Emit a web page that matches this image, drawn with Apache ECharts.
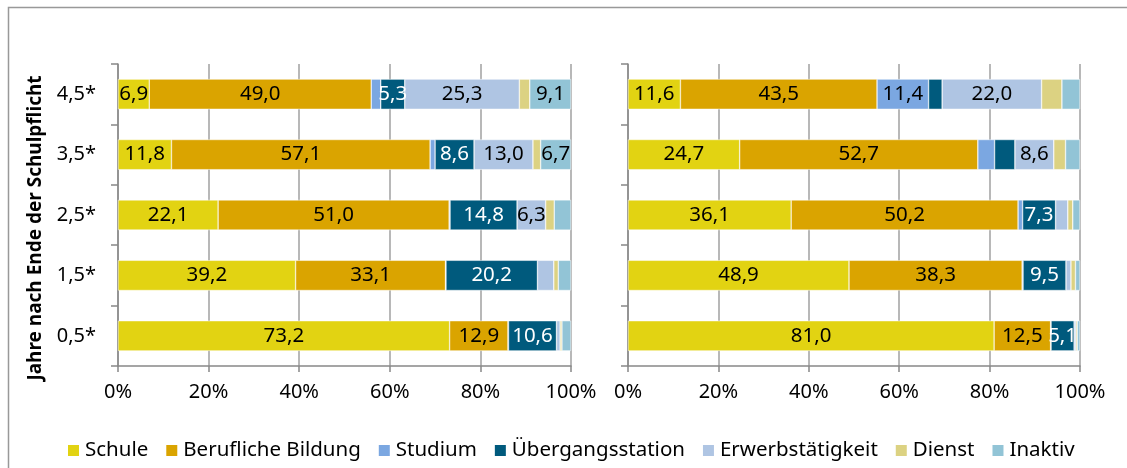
<!DOCTYPE html>
<html>
<head>
<meta charset="utf-8">
<style>
  html, body { margin: 0; padding: 0; background: #fff; }
  #chart { width: 1127px; height: 468px; }
</style>
<script src="https://cdn.jsdelivr.net/npm/echarts@6/dist/echarts.min.js"></script>
</head>
<body>
<div id="chart"></div>
<script>
// Zwei gestapelte 100%-Balkendiagramme nebeneinander.

const categories = ["0,5*", "1,5*", "2,5*", "3,5*", "4,5*"];
const xTicks = [0, 20, 40, 60, 80, 100];
const seriesNames = ["Schule", "Berufliche Bildung", "Studium", "Übergangsstation", "Erwerbstätigkeit", "Dienst", "Inaktiv"];

// linkes Diagramm (Reihenfolge wie categories, von unten nach oben)
const leftSchule = [73.2, 39.2, 22.1, 11.8, 6.9];
const leftBildung = [12.9, 33.1, 51.0, 57.1, 49.0];
const leftStudium = [0.1, 0.1, 0.2, 1.1, 2.1];
const leftUebergang = [10.6, 20.2, 14.8, 8.6, 5.3];
const leftErwerb = [0.8, 3.6, 6.3, 13.0, 25.3];
const leftDienst = [0.4, 1.0, 1.9, 1.7, 2.3];
const leftInaktiv = [2.0, 2.8, 3.7, 6.7, 9.1];

// rechtes Diagramm
const rightSchule = [81.0, 48.9, 36.1, 24.7, 11.6];
const rightBildung = [12.5, 38.3, 50.2, 52.7, 43.5];
const rightStudium = [0.1, 0.2, 1.0, 3.7, 11.4];
const rightUebergang = [5.1, 9.5, 7.3, 4.5, 3.0];
const rightErwerb = [0.4, 1.1, 2.7, 8.6, 22.0];
const rightDienst = [0.3, 1.0, 1.1, 2.6, 4.5];
const rightInaktiv = [0.6, 1.0, 1.6, 3.2, 4.0];

const COLORS = ["#E2D312", "#DAA400", "#7BA7E1", "#005A7D", "#AFC5E3", "#DCD282", "#92C4D6"];
const LABEL_COLORS = ["#000", "#000", "#000", "#fff", "#000", "#000", "#000"];

const leftData = [leftSchule, leftBildung, leftStudium, leftUebergang, leftErwerb, leftDienst, leftInaktiv];
const rightData = [rightSchule, rightBildung, rightStudium, rightUebergang, rightErwerb, rightDienst, rightInaktiv];

const FONT = "'Noto Sans', sans-serif";
const GRID_COLOR = "#A0A0A0";

function fmt(v) {
  return v.toFixed(1).replace(".", ",");
}

function makeSeries(data, gridIdx) {
  return data.map((vals, i) => ({
    name: seriesNames[i],
    type: "bar",
    stack: "s" + gridIdx,
    xAxisIndex: gridIdx,
    yAxisIndex: gridIdx,
    barCategoryGap: "50%",
    itemStyle: { color: COLORS[i], borderColor: "#fff", borderWidth: 0.5 },
    label: {
      show: true,
      position: "inside",
      color: LABEL_COLORS[i],
      fontFamily: FONT,
      fontSize: 20.5,
      formatter: (p) => (p.value >= 5 ? fmt(p.value) : ""),
    },
    data: vals,
  }));
}

function xAxis(gridIdx) {
  return {
    type: "value",
    gridIndex: gridIdx,
    min: 0,
    max: 100,
    interval: 20,
    axisLine: { show: true, lineStyle: { color: "#888", width: 1.5 } },
    axisTick: { show: true, length: 6, lineStyle: { color: "#888", width: 1.5 } },
    axisLabel: {
      color: "#000",
      fontFamily: FONT,
      fontSize: 20,
      margin: 16,
      formatter: (v) => (xTicks.includes(v) ? v + "%" : ""),
    },
    splitLine: { show: true, lineStyle: { color: GRID_COLOR, width: 1.5 } },
  };
}

function yAxis(gridIdx, withLabels) {
  const ax = {
    type: "category",
    gridIndex: gridIdx,
    data: categories,
    axisLine: { show: true, lineStyle: { color: "#888", width: 1.5 } },
    axisTick: { show: true, length: 7, lineStyle: { color: "#888", width: 1.5 } },
    axisLabel: { show: withLabels, color: "#000", fontFamily: FONT, fontSize: 20, margin: 22 },
  };
  if (withLabels) {
    ax.name = "Jahre nach Ende der Schulpflicht";
    ax.nameLocation = "middle";
    ax.nameRotate = 90;
    ax.nameGap = 73;
    ax.nameTextStyle = {
      color: "#000", fontFamily: FONT, fontSize: 19, fontWeight: "bold",
      padding: [0, 26, 0, 0],
    };
  }
  return ax;
}

const chart = echarts.init(document.getElementById("chart"));
chart.setOption({
  backgroundColor: "#fff",
  animation: false,
  graphic: [{
    type: "rect",
    shape: { x: 8.5, y: 7.5, width: 1300, height: 600 },
    style: { fill: "none", stroke: "#999", lineWidth: 1.5 },
    silent: true,
  }],
  legend: {
    data: seriesNames,
    left: 61,
    top: 435,
    icon: "rect",
    itemWidth: 13,
    itemHeight: 13,
    itemGap: 16,
    textStyle: { color: "#000", fontFamily: FONT, fontSize: 20.5 },
  },
  grid: [
    { left: 118, right: 556, top: 64, bottom: 102 },
    { left: 628, right: 47, top: 64, bottom: 102 },
  ],
  xAxis: [xAxis(0), xAxis(1)],
  yAxis: [yAxis(0, true), yAxis(1, false)],
  series: [...makeSeries(leftData, 0), ...makeSeries(rightData, 1)],
});
</script>
</body>
</html>
